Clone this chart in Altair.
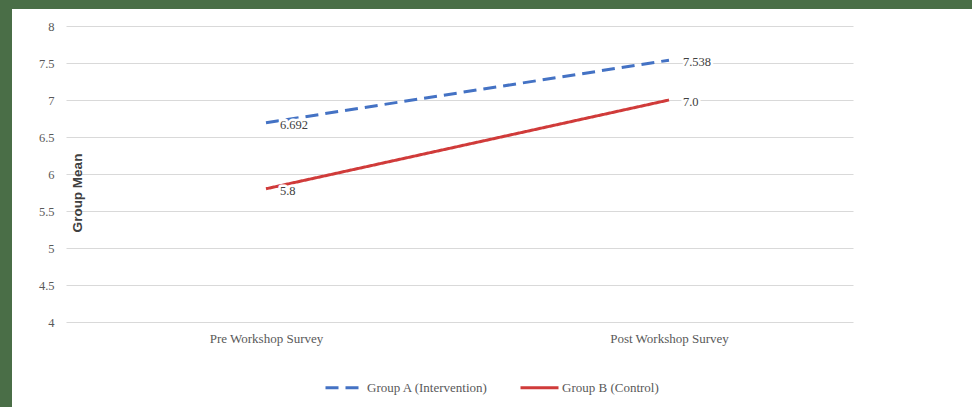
import altair as alt
import pandas as pd

# Survey phases (x categories) and the two study groups
phases = ["Pre Workshop Survey", "Post Workshop Survey"]
groups = ["Group A (Intervention)", "Group B (Control)"]

# Group means per phase
group_a_means = [6.692, 7.538]
group_b_means = [5.8, 7.0]

# Y axis tick values
y_ticks = [4, 4.5, 5, 5.5, 6, 6.5, 7, 7.5, 8]

line_colors = ["#4472C4", "#D03B3A"]
line_dashes = [[13, 7], [1, 0]]
FRAME = "#4a6e47"

rows = []
for group, means in zip(groups, [group_a_means, group_b_means]):
    for phase, m in zip(phases, means):
        rows.append({"phase": phase, "group": group, "mean": m, "label": str(m)})
df = pd.DataFrame(rows)

SERIF = "Liberation Serif"
SANS = "Liberation Sans"

PLOT_W, PLOT_H = 787, 296
PAD_L, PAD_T = 66, 26
TOTAL_W, TOTAL_H = 972, 407

x_enc = alt.X(
    "phase:N",
    sort=phases,
    scale=alt.Scale(type="point", padding=0.4764, align=0.5208),
    axis=alt.Axis(
        title=None,
        labelAngle=0,
        ticks=False,
        domain=False,
        grid=False,
        labelFont=SERIF,
        labelFontSize=13,
        labelColor="#595959",
        labelPadding=10,
    ),
)

y_enc = alt.Y(
    "mean:Q",
    scale=alt.Scale(domain=[4, 8], nice=False, zero=False),
    axis=alt.Axis(
        title="Group Mean",
        values=y_ticks,
        format="~g",
        ticks=False,
        domain=False,
        grid=True,
        gridColor="#d9d9d9",
        gridWidth=1,
        labelFont=SERIF,
        labelFontSize=12.5,
        labelColor="#595959",
        labelPadding=12,
        labelOverlap=False,
        titleFont=SANS,
        titleFontSize=13.5,
        titleFontWeight="bold",
        titleColor="#404040",
        titleX=11.5,
        titleY=166.5,
        titleAngle=-90,
        titleAlign="center",
        titleBaseline="middle",
    ),
)

color_enc = alt.Color(
    "group:N",
    sort=groups,
    scale=alt.Scale(domain=groups, range=line_colors),
    legend=alt.Legend(
        title=None,
        orient="none",
        direction="horizontal",
        legendX=258,
        legendY=341,
        symbolType="stroke",
        symbolSize=1444,
        symbolStrokeWidth=3,
        labelFont=SERIF,
        labelFontSize=13,
        labelColor="#595959",
        labelOffset=2,
        columnPadding=25,
    ),
)

dash_enc = alt.StrokeDash(
    "group:N",
    sort=groups,
    scale=alt.Scale(domain=groups, range=line_dashes),
    legend=None,
)

base = alt.Chart(df)
one = pd.DataFrame({"k": [0]})

# Dark frame strips along the top and left edges
top_strip = alt.Chart(one).mark_rect(color=FRAME).encode(
    x=alt.value(-PAD_L),
    x2=alt.value(TOTAL_W - PAD_L),
    y=alt.value(-PAD_T),
    y2=alt.value(9 - PAD_T),
)
left_strip = alt.Chart(one).mark_rect(color=FRAME).encode(
    x=alt.value(-PAD_L),
    x2=alt.value(12 - PAD_L),
    y=alt.value(-PAD_T),
    y2=alt.value(TOTAL_H - PAD_T),
)

lines = base.mark_line(strokeWidth=3, strokeCap="butt").encode(
    x=x_enc, y=y_enc, color=color_enc, strokeDash=dash_enc, detail="group:N"
)

label_style = dict(align="left", baseline="middle", dx=14, dy=2,
                   font=SERIF, fontSize=12.5)

# White halo so gridlines stop around the value labels
label_halo = base.mark_text(
    stroke="white", strokeWidth=5, strokeJoin="round", fill="white", **label_style
).encode(x=x_enc, y=y_enc, text="label:N")

labels = base.mark_text(color="#404040", **label_style).encode(
    x=x_enc, y=y_enc, text="label:N"
)

chart = (
    alt.layer(lines, label_halo, labels, top_strip, left_strip)
    .properties(
        width=PLOT_W,
        height=PLOT_H,
        autosize=alt.AutoSizeParams(type="none"),
        padding={"left": PAD_L, "top": PAD_T,
                 "right": TOTAL_W - PAD_L - PLOT_W,
                 "bottom": TOTAL_H - PAD_T - PLOT_H},
        background="white",
    )
    .configure_view(stroke=None)
)

chart.save("out.html", embed_options={"renderer": "svg", "actions": False})
